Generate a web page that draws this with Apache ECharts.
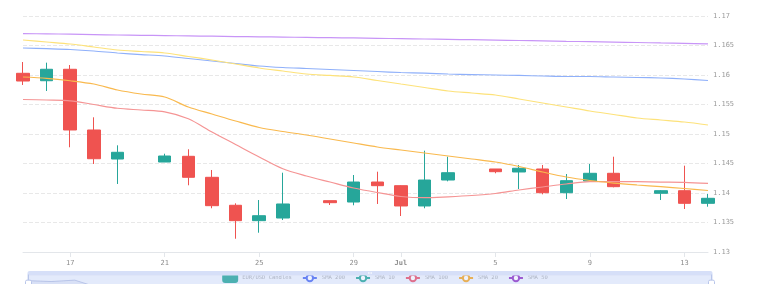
<!DOCTYPE html>
<html>
<head>
<meta charset="utf-8">
<title>EUR/USD</title>
<script src="https://cdn.jsdelivr.net/npm/echarts@6/dist/echarts.min.js"></script>
<style>
  html, body { margin: 0; padding: 0; background: #fff; }
  #chart { width: 770px; height: 284px; }
</style>
</head>
<body>
<div id="chart"></div>
<script>
// one entry per calendar day, Jun 15 .. Jul 14
const days = [
  '2025-06-15', '2025-06-16', '2025-06-17', '2025-06-18', '2025-06-19', '2025-06-20',
  '2025-06-21', '2025-06-22', '2025-06-23', '2025-06-24', '2025-06-25', '2025-06-26',
  '2025-06-27', '2025-06-28', '2025-06-29', '2025-06-30', '2025-07-01', '2025-07-02',
  '2025-07-03', '2025-07-04', '2025-07-05', '2025-07-06', '2025-07-07', '2025-07-08',
  '2025-07-09', '2025-07-10', '2025-07-11', '2025-07-12', '2025-07-13', '2025-07-14'
];

// [open, close, low, high], null = no candle that day
const ohlc = [
  [1.16029, 1.15898, 1.15831, 1.16220],
  [1.15903, 1.16097, 1.15729, 1.16209],
  [1.16097, 1.15068, 1.14775, 1.16169],
  [1.15068, 1.14581, 1.14492, 1.15283],
  [1.14576, 1.14690, 1.14153, 1.14808],
  null,
  [1.14525, 1.14627, 1.14525, 1.14666],
  [1.14622, 1.14266, 1.14131, 1.14741],
  [1.14266, 1.13785, 1.13741, 1.14390],
  [1.13792, 1.13531, 1.13225, 1.13825],
  [1.13531, 1.13615, 1.13327, 1.13881],
  [1.13576, 1.13814, 1.13542, 1.14344],
  null,
  [1.13870, 1.13836, 1.13797, 1.13871],
  [1.13847, 1.14186, 1.13792, 1.14305],
  [1.14186, 1.14124, 1.13814, 1.14361],
  [1.14124, 1.13780, 1.13610, 1.14130],
  [1.13780, 1.14220, 1.13741, 1.14717],
  [1.14220, 1.14344, 1.14198, 1.14615],
  null,
  [1.14407, 1.14361, 1.14334, 1.14407],
  [1.14356, 1.14419, 1.14068, 1.14475],
  [1.14407, 1.14005, 1.13978, 1.14475],
  [1.14005, 1.14209, 1.13898, 1.14322],
  [1.14203, 1.14334, 1.14186, 1.14492],
  [1.14334, 1.14107, 1.14096, 1.14615],
  null,
  [1.13995, 1.14039, 1.13881, 1.14050],
  [1.14039, 1.13825, 1.13729, 1.14463],
  [1.13825, 1.13910, 1.13768, 1.13983]
];

const sma200 = [
  1.16458, 1.16446, 1.16432, 1.16407, 1.16373, 1.16347, 1.16322, 1.16280, 1.16237, 1.16195,
  1.16153, 1.16127, 1.16110, 1.16093, 1.16076, 1.16059, 1.16042, 1.16031, 1.16017, 1.16008,
  1.16000, 1.15992, 1.15983, 1.15975, 1.15975, 1.15966, 1.15958, 1.15949, 1.15932, 1.15907
];
const sma10 = [
  1.16593, 1.16559, 1.16525, 1.16475, 1.16424, 1.16398, 1.16373, 1.16314, 1.16254, 1.16186,
  1.16119, 1.16068, 1.16017, 1.15992, 1.15966, 1.15907, 1.15847, 1.15788, 1.15729, 1.15695,
  1.15661, 1.15593, 1.15525, 1.15458, 1.15390, 1.15331, 1.15271, 1.15237, 1.15203, 1.15153
];
const sma100 = [
  1.15585, 1.15576, 1.15563, 1.15500, 1.15436, 1.15407, 1.15376, 1.15259, 1.15034, 1.14822,
  1.14610, 1.14410, 1.14288, 1.14186, 1.14085, 1.14008, 1.13941, 1.13920, 1.13936, 1.13958,
  1.13992, 1.14051, 1.14102, 1.14153, 1.14192, 1.14195, 1.14192, 1.14186, 1.14181, 1.14164
];
const sma20 = [
  1.15966, 1.15944, 1.15903, 1.15847, 1.15746, 1.15678, 1.15627, 1.15458, 1.15339, 1.15220,
  1.15110, 1.15042, 1.14983, 1.14915, 1.14847, 1.14780, 1.14729, 1.14678, 1.14627, 1.14576,
  1.14525, 1.14449, 1.14356, 1.14271, 1.14212, 1.14169, 1.14136, 1.14107, 1.14076, 1.14042
];
const sma50 = [
  1.16700, 1.16698, 1.16692, 1.16685, 1.16678, 1.16672, 1.16668, 1.16663, 1.16658, 1.16652,
  1.16647, 1.16642, 1.16637, 1.16633, 1.16628, 1.16622, 1.16616, 1.16610, 1.16604, 1.16598,
  1.16592, 1.16585, 1.16578, 1.16571, 1.16565, 1.16558, 1.16551, 1.16543, 1.16536, 1.16528
];

const yTicks = { min: 1.13, max: 1.17, step: 0.005 };

const font = 'DejaVu Sans Mono';
const upColor = '#26a69a';
const downColor = '#ef5350';

const ts = d => +new Date(d + 'T00:00:00');

const candleData = [];
days.forEach((d, i) => {
  if (ohlc[i]) candleData.push([ts(d)].concat(ohlc[i]));
});
const pairs = arr => arr.map((v, i) => [ts(days[i]), v]);

function smaSeries(name, values, lineColor) {
  return {
    name: name,
    type: 'line',
    data: pairs(values),
    showSymbol: false,
    symbol: 'emptyCircle',
    smooth: 0.3,
    lineStyle: { width: 1.2, color: lineColor },
    itemStyle: { color: lineColor },
    z: 3
  };
}

const chart = echarts.init(document.getElementById('chart'), null, { renderer: 'canvas' });
chart.setOption({
  animation: false,
  grid: { left: 23, right: 62, top: 16, bottom: 32 },
  legend: {
    top: 268,
    left: 'center',
    itemWidth: 14,
    itemHeight: 8,
    itemGap: 10,
    textStyle: { fontFamily: font, fontSize: 5.5, color: '#a8acb4' },
    data: [
      { name: 'EUR/USD Candles', icon: 'roundRect', itemStyle: { color: upColor } },
      { name: 'SMA 200', itemStyle: { color: '#4d6bf2' }, lineStyle: { color: '#4d6bf2' } },
      { name: 'SMA 10', itemStyle: { color: '#26a69a' }, lineStyle: { color: '#26a69a' } },
      { name: 'SMA 100', itemStyle: { color: '#e8506a' }, lineStyle: { color: '#e8506a' } },
      { name: 'SMA 20', itemStyle: { color: '#f5a623' }, lineStyle: { color: '#f5a623' } },
      { name: 'SMA 50', itemStyle: { color: '#9034c4' }, lineStyle: { color: '#9034c4' } }
    ]
  },
  dataZoom: [{
    type: 'slider',
    xAxisIndex: 0,
    left: 25,
    right: 60,
    top: 271,
    height: 30,
    showDetail: false,
    moveHandleSize: 4,
    moveHandleStyle: { color: '#d6dff8', opacity: 1 },
    borderColor: '#dbe2f5',
    backgroundColor: 'rgba(232,238,252,0.7)',
    fillerColor: 'rgba(190,208,248,0.25)',
    dataBackground: {
      lineStyle: { color: '#c3d0f3', width: 0.8 },
      areaStyle: { color: '#d9e3fb', opacity: 0.8 }
    },
    handleStyle: { color: '#fff', borderColor: '#b9c6ea' }
  }],
  xAxis: {
    type: 'time',
    min: ts(days[0]),
    max: ts(days[days.length - 1]),
    axisLine: { lineStyle: { color: '#e3e6ea' } },
    axisTick: { lineStyle: { color: '#e3e6ea' } },
    axisLabel: { fontFamily: font, fontSize: 7, color: '#8c8c8c' },
    splitLine: { show: false }
  },
  yAxis: {
    type: 'value',
    position: 'right',
    scale: true,
    min: yTicks.min,
    max: yTicks.max,
    interval: yTicks.step,
    axisLine: { show: false },
    axisTick: { show: false },
    axisLabel: { fontFamily: font, fontSize: 7, color: '#9a9a9a', margin: 5 },
    splitLine: { lineStyle: { type: 'dashed', color: '#e8e8e8' } }
  },
  series: [
    {
      name: 'EUR/USD Candles',
      type: 'candlestick',
      data: candleData,
      encode: { x: 0, y: [1, 2, 3, 4] },
      barWidth: 13,
      clip: false,
      itemStyle: {
        color: upColor,
        color0: downColor,
        borderColor: upColor,
        borderColor0: downColor,
        borderWidth: 1
      },
      z: 2
    },
    smaSeries('SMA 200', sma200, '#8fb0fa'),
    smaSeries('SMA 10', sma10, '#fde27a'),
    smaSeries('SMA 100', sma100, '#f59494'),
    smaSeries('SMA 20', sma20, '#f9b94e'),
    smaSeries('SMA 50', sma50, '#c895f7')
  ]
});
</script>
</body>
</html>
